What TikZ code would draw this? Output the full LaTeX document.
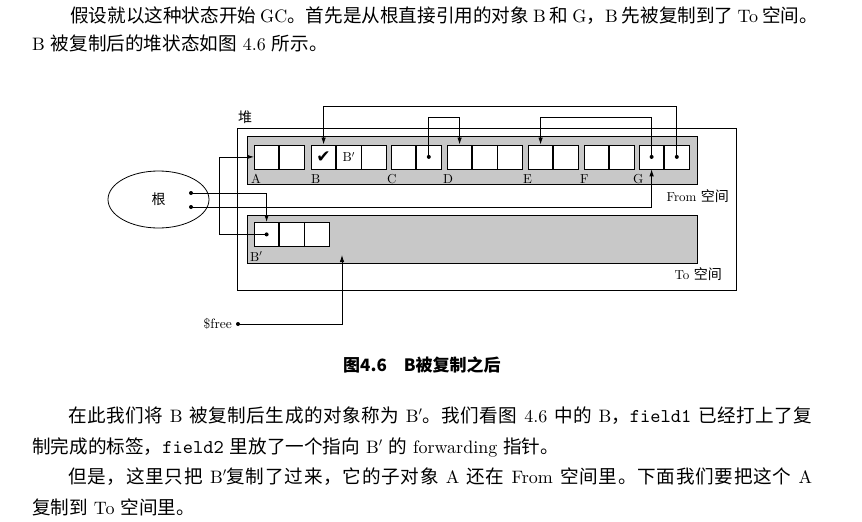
\documentclass[tikz,border=0pt]{standalone}
\usepackage{fontspec}
\setmainfont{lmroman10-regular.otf}[BoldFont=lmroman10-bold.otf,ItalicFont=lmroman10-italic.otf]
\setmonofont{lmmono10-regular.otf}
\newfontfamily\zh{Noto Sans CJK SC}
\newfontfamily\dejavu{DejaVu Sans}
\usetikzlibrary{arrows.meta,shapes.geometric}
\definecolor{spacegray}{RGB}{200,200,200}
\makeatletter
\count@="3000
\loop\XeTeXcharclass\count@=10 \ifnum\count@<"303F \advance\count@ by 1 \repeat
\count@="4E00
\loop\XeTeXcharclass\count@=10 \ifnum\count@<"9FFF \advance\count@ by 1 \repeat
\count@="FF00
\loop\XeTeXcharclass\count@=10 \ifnum\count@<"FFEF \advance\count@ by 1 \repeat
\makeatother
\XeTeXinterchartokenstate=1
\XeTeXinterchartoks 10 10 = {\hskip 0pt plus 2pt\relax}
\tikzset{
  wire/.style={line width=0.8pt},
  ptr/.style={line width=0.8pt,-{Latex[length=7pt,width=4.5pt]}},
  spacebox/.style={draw=black,fill=spacegray,line width=0.8pt,anchor=north west,inner sep=0pt,minimum width=450pt,minimum height=48pt},
  cell/.style={draw=black,fill=white,line width=0.8pt,minimum width=24.4pt,minimum height=24pt,inner sep=0pt,anchor=north west,font=\fontsize{13}{13}\selectfont},
  lbl/.style={inner sep=0pt,anchor=base west,font=\fontsize{13}{13}\selectfont},
  body/.style={inner sep=0pt,anchor=base west,font=\fontsize{18}{18}\selectfont},
  dot/.style={circle,fill=black,inner sep=0pt,minimum size=4pt},
}
\newcommand\zt[1]{{\zh\fontsize{18.6}{18.6}\selectfont #1}}
\newcommand\fld[1]{{\ttfamily\fontsize{19.5}{19.5}\selectfont #1}}
\newcommand\jline[1]{\makebox[744pt][s]{#1}}
\begin{document}
\begin{tikzpicture}[x=1pt,y=-1pt]
\useasboundingbox (0,0) rectangle (862,522);
% body text
\node[body] (t1) at (70,23) {\jline{\zt{假设就以这种状态开始} GC\zt{。首先是从根直接引用的对象} B \zt{和} G\zt{，}B \zt{先被复制到了} To \zt{空间。}}};
\node[body] (t2) at (32,50) {B \zt{被复制后的堆状态如图} 4.6 \zt{所示。}};
% heap
\node[draw=black,line width=0.8pt,anchor=north west,inner sep=0pt,minimum width=499pt,minimum height=162pt] (heap) at (237,128) {};
\node[inner sep=0pt,font=\zh\fontsize{14}{14}\selectfont] (heaplbl) at (245,117) {堆};
\node[spacebox] (from) at (247,136) {};
\node[spacebox] (to) at (247,215) {};
\node[lbl,anchor=base east] (fromlbl) at (729,201) {From {\zh\fontsize{14}{14}\selectfont 空间}};
\node[lbl,anchor=base east] (tolbl) at (722,279) {To {\zh\fontsize{14}{14}\selectfont 空间}};
% objects in From
\node[cell] (a1) at (254,144.5) {};
\node[cell] (a2) at (a1.north east) {};
\node[cell] (b1) at (311,144.5) {\dejavu\fontsize{17}{17}\selectfont ✔};
\node[cell] (b2) at (b1.north east) {B$'$};
\node[cell] (b3) at (b2.north east) {};
\node[cell] (c1) at (391,144.5) {};
\node[cell] (c2) at (c1.north east) {};
\node[cell] (d1) at (447,144.5) {};
\node[cell] (d2) at (d1.north east) {};
\node[cell] (d3) at (d2.north east) {};
\node[cell] (e1) at (528,144.5) {};
\node[cell] (e2) at (e1.north east) {};
\node[cell] (f1) at (584,144.5) {};
\node[cell] (f2) at (f1.north east) {};
\node[cell] (g1) at (639,144.5) {};
\node[cell] (g2) at (g1.north east) {};
\node[lbl] (la) at (251,183) {A};
\node[lbl] (lb) at (311,183) {B};
\node[lbl] (lc) at (387,183) {C};
\node[lbl] (ld) at (443,183) {D};
\node[lbl] (le) at (523,183) {E};
\node[lbl] (lf) at (580,183) {F};
\node[lbl] (lg) at (633,183) {G};
% object in To
\node[cell] (p1) at (254,222) {};
\node[cell] (p2) at (p1.north east) {};
\node[cell] (p3) at (p2.north east) {};
\node[lbl] (lp) at (250,261) {B$'$};
% root
\node[draw=black,line width=0.8pt,ellipse,minimum width=101pt,minimum height=57pt,inner sep=0pt,font=\zh\fontsize{14}{14}\selectfont] (root) at (158.5,199.5) {根};
\node[dot] (r1) at (191,193) {};
\node[dot] (r2) at (191,207) {};
% dots in fields
\node[dot] (cd) at (c2.center) {};
\node[dot] (gd1) at (g1.center) {};
\node[dot] (gd2) at (g2.center) {};
\node[dot] (pd) at (p1.center) {};
% levels
\coordinate (lvla) at (0,106);
\coordinate (lvlb) at (0,117);
\coordinate (lx) at (219,0);
% connectors
\draw[ptr] (r1.center) -| (p1.north);
\draw[ptr] (r2.center) -| (g1.south);
\draw[ptr] (pd.center) -- (pd.center -| lx) |- (a1.west);
\draw[ptr] (gd2.center) -- (gd2.center |- lvla) -| (b1.north);
\draw[ptr] (cd.center) -- (cd.center |- lvlb) -| (d1.north);
\draw[ptr] (gd1.center) -- (gd1.center |- lvlb) -| (e1.north);
% free
\node[dot] (fd) at (238,324) {};
\node[lbl,anchor=base east,font=\fontsize{13.5}{13.5}\selectfont] (free) at (232,328.5) {\$free};
\coordinate (ftip) at (342,255);
\draw[ptr] (fd.center) -| (ftip);
% caption
\node[inner sep=0pt,anchor=base west,font=\zh\bfseries\fontsize{17}{17}\selectfont] (cap) at (343,371) {图4.6\quad B被复制之后};
% bottom text
\node[body] (u1) at (68,422) {\jline{\zt{在此我们将} B \zt{被复制后生成的对象称为} B$'$\zt{。我们看图} 4.6 \zt{中的} B\zt{，}\fld{field1} \zt{已经打上了复}}};
\node[body] (u2) at (32,453) {\zt{制完成的标签，}\fld{field2} \zt{里放了一个指向} B$'$ \zt{的} forwarding \zt{指针。}};
\node[body] (u3) at (68,483) {\jline{\zt{但是，这里只把} B$'$\zt{复制了过来，它的子对象} A \zt{还在} From \zt{空间里。下面我们要把这个} A}};
\node[body] (u4) at (32,514) {\zt{复制到} To \zt{空间里。}};
\end{tikzpicture}
\end{document}
